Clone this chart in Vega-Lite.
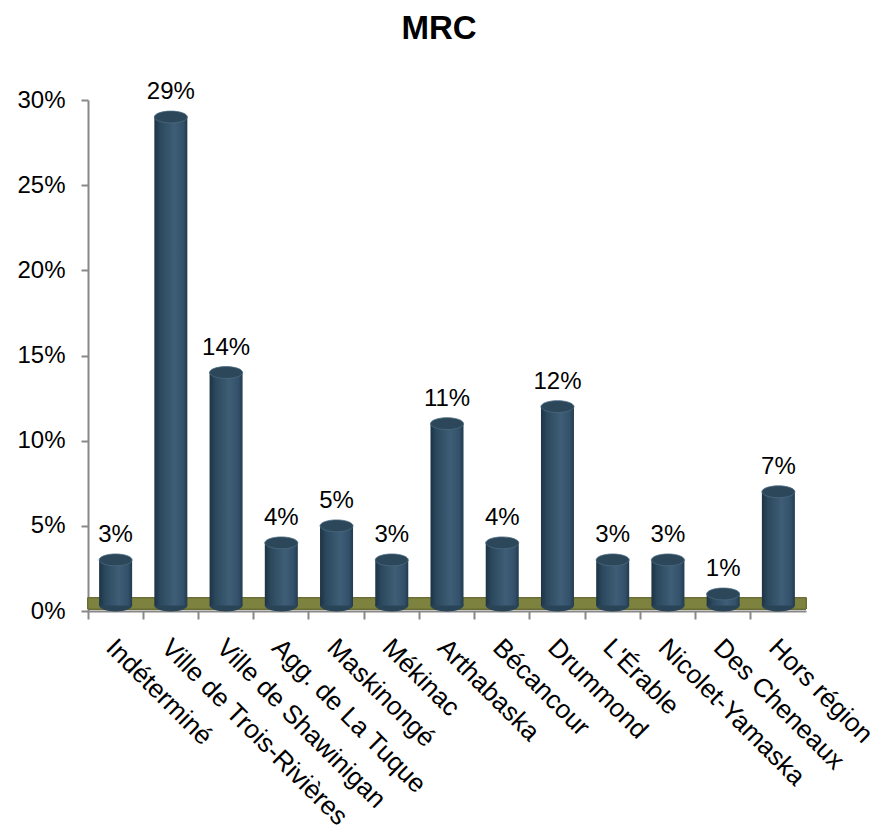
{
  "$schema": "https://vega.github.io/schema/vega-lite/v6.json",
  "width": 718,
  "height": 511,
  "autosize": "none",
  "padding": {"left": 88, "top": 100, "right": 76, "bottom": 227},
  "background": "white",
  "title": {"text": "MRC", "fontSize": 33, "font": "Liberation Sans Narrow, Liberation Sans", "fontWeight": "bold", "color": "#000000", "offset": 8, "baseline": "alphabetic", "anchor": "middle", "dx": -8},
  "config": {"view": {"stroke": null}, "axis": {"grid": false}},
  "data": {"values": [
    {"mrc": "Indéterminé", "pct": 0.03},
    {"mrc": "Ville de Trois-Rivières", "pct": 0.29},
    {"mrc": "Ville de Shawinigan", "pct": 0.14},
    {"mrc": "Agg. de La Tuque", "pct": 0.04},
    {"mrc": "Maskinongé", "pct": 0.05},
    {"mrc": "Mékinac", "pct": 0.03},
    {"mrc": "Arthabaska", "pct": 0.11},
    {"mrc": "Bécancour", "pct": 0.04},
    {"mrc": "Drummond", "pct": 0.12},
    {"mrc": "L'Érable", "pct": 0.03},
    {"mrc": "Nicolet-Yamaska", "pct": 0.03},
    {"mrc": "Des Cheneaux", "pct": 0.01},
    {"mrc": "Hors région", "pct": 0.07}
  ]},
  "encoding": {
    "x": {"field": "mrc", "type": "nominal", "sort": null,
      "scale": {"paddingInner": 0, "paddingOuter": 0},
      "axis": {"title": null, "labelAngle": 45, "labelAlign": "left", "labelBaseline": "top", "labelFontSize": 26, "labelFont": "Liberation Sans", "labelColor": "#000000", "labelPadding": 15, "labelOffset": 4, "bandPosition": 0, "tickColor": "#888888", "tickSize": 8, "domainColor": "#888888", "domainWidth": 2, "tickWidth": 2, "labelLimit": 400}}
  },
  "layer": [
    {
      "mark": {"type": "rect", "fill": "#7e823f", "stroke": "#6a6d35", "strokeWidth": 1},
      "encoding": {
        "x": null,
        "y": {"datum": 0.0012, "type": "quantitative", "scale": {"domain": [0, 0.3], "nice": false},
          "axis": {"title": null, "format": ".0%", "values": [0, 0.05, 0.1, 0.15, 0.2, 0.25, 0.3], "labelFontSize": 24, "labelFont": "Liberation Sans", "labelColor": "#000000", "labelPadding": 16, "tickColor": "#888888", "tickSize": 7, "tickWidth": 2, "domainColor": "#888888", "domainWidth": 2}},
        "y2": {"datum": 0.0077}
      }
    },
    {
      "mark": {"type": "point", "filled": true, "opacity": 1, "size": 1089, "fill": "#2a4457",
        "shape": "M-1,0 A1,0.36 0 1,1 1,0 A1,0.36 0 1,1 -1,0 Z"},
      "encoding": {"y": {"datum": 0.0032, "type": "quantitative"}}
    },
    {
      "mark": {"type": "bar", "width": 33,
        "color": {"gradient": "linear", "x1": 0, "x2": 1, "y1": 0, "y2": 0,
          "stops": [
            {"offset": 0, "color": "#1d3344"},
            {"offset": 0.18, "color": "#2b485d"},
            {"offset": 0.6, "color": "#3e5e76"},
            {"offset": 0.88, "color": "#33506a"},
            {"offset": 1, "color": "#223a4c"}
          ]}},
      "encoding": {
        "y": {"field": "pct", "type": "quantitative"},
        "y2": {"datum": 0.0032}
      }
    },
    {
      "mark": {"type": "point", "filled": true, "opacity": 1, "size": 1089, "fill": "#2c4759", "stroke": "#4a6a80", "strokeWidth": 0.8,
        "shape": "M-1,0 A1,0.36 0 1,1 1,0 A1,0.36 0 1,1 -1,0 Z"},
      "encoding": {"y": {"field": "pct", "type": "quantitative"}}
    },
    {
      "mark": {"type": "text", "fontSize": 24, "font": "Liberation Sans", "color": "#000000", "baseline": "alphabetic", "dy": -18},
      "encoding": {
        "y": {"field": "pct", "type": "quantitative"},
        "text": {"field": "pct", "type": "quantitative", "format": ".0%"}
      }
    }
  ]
}
